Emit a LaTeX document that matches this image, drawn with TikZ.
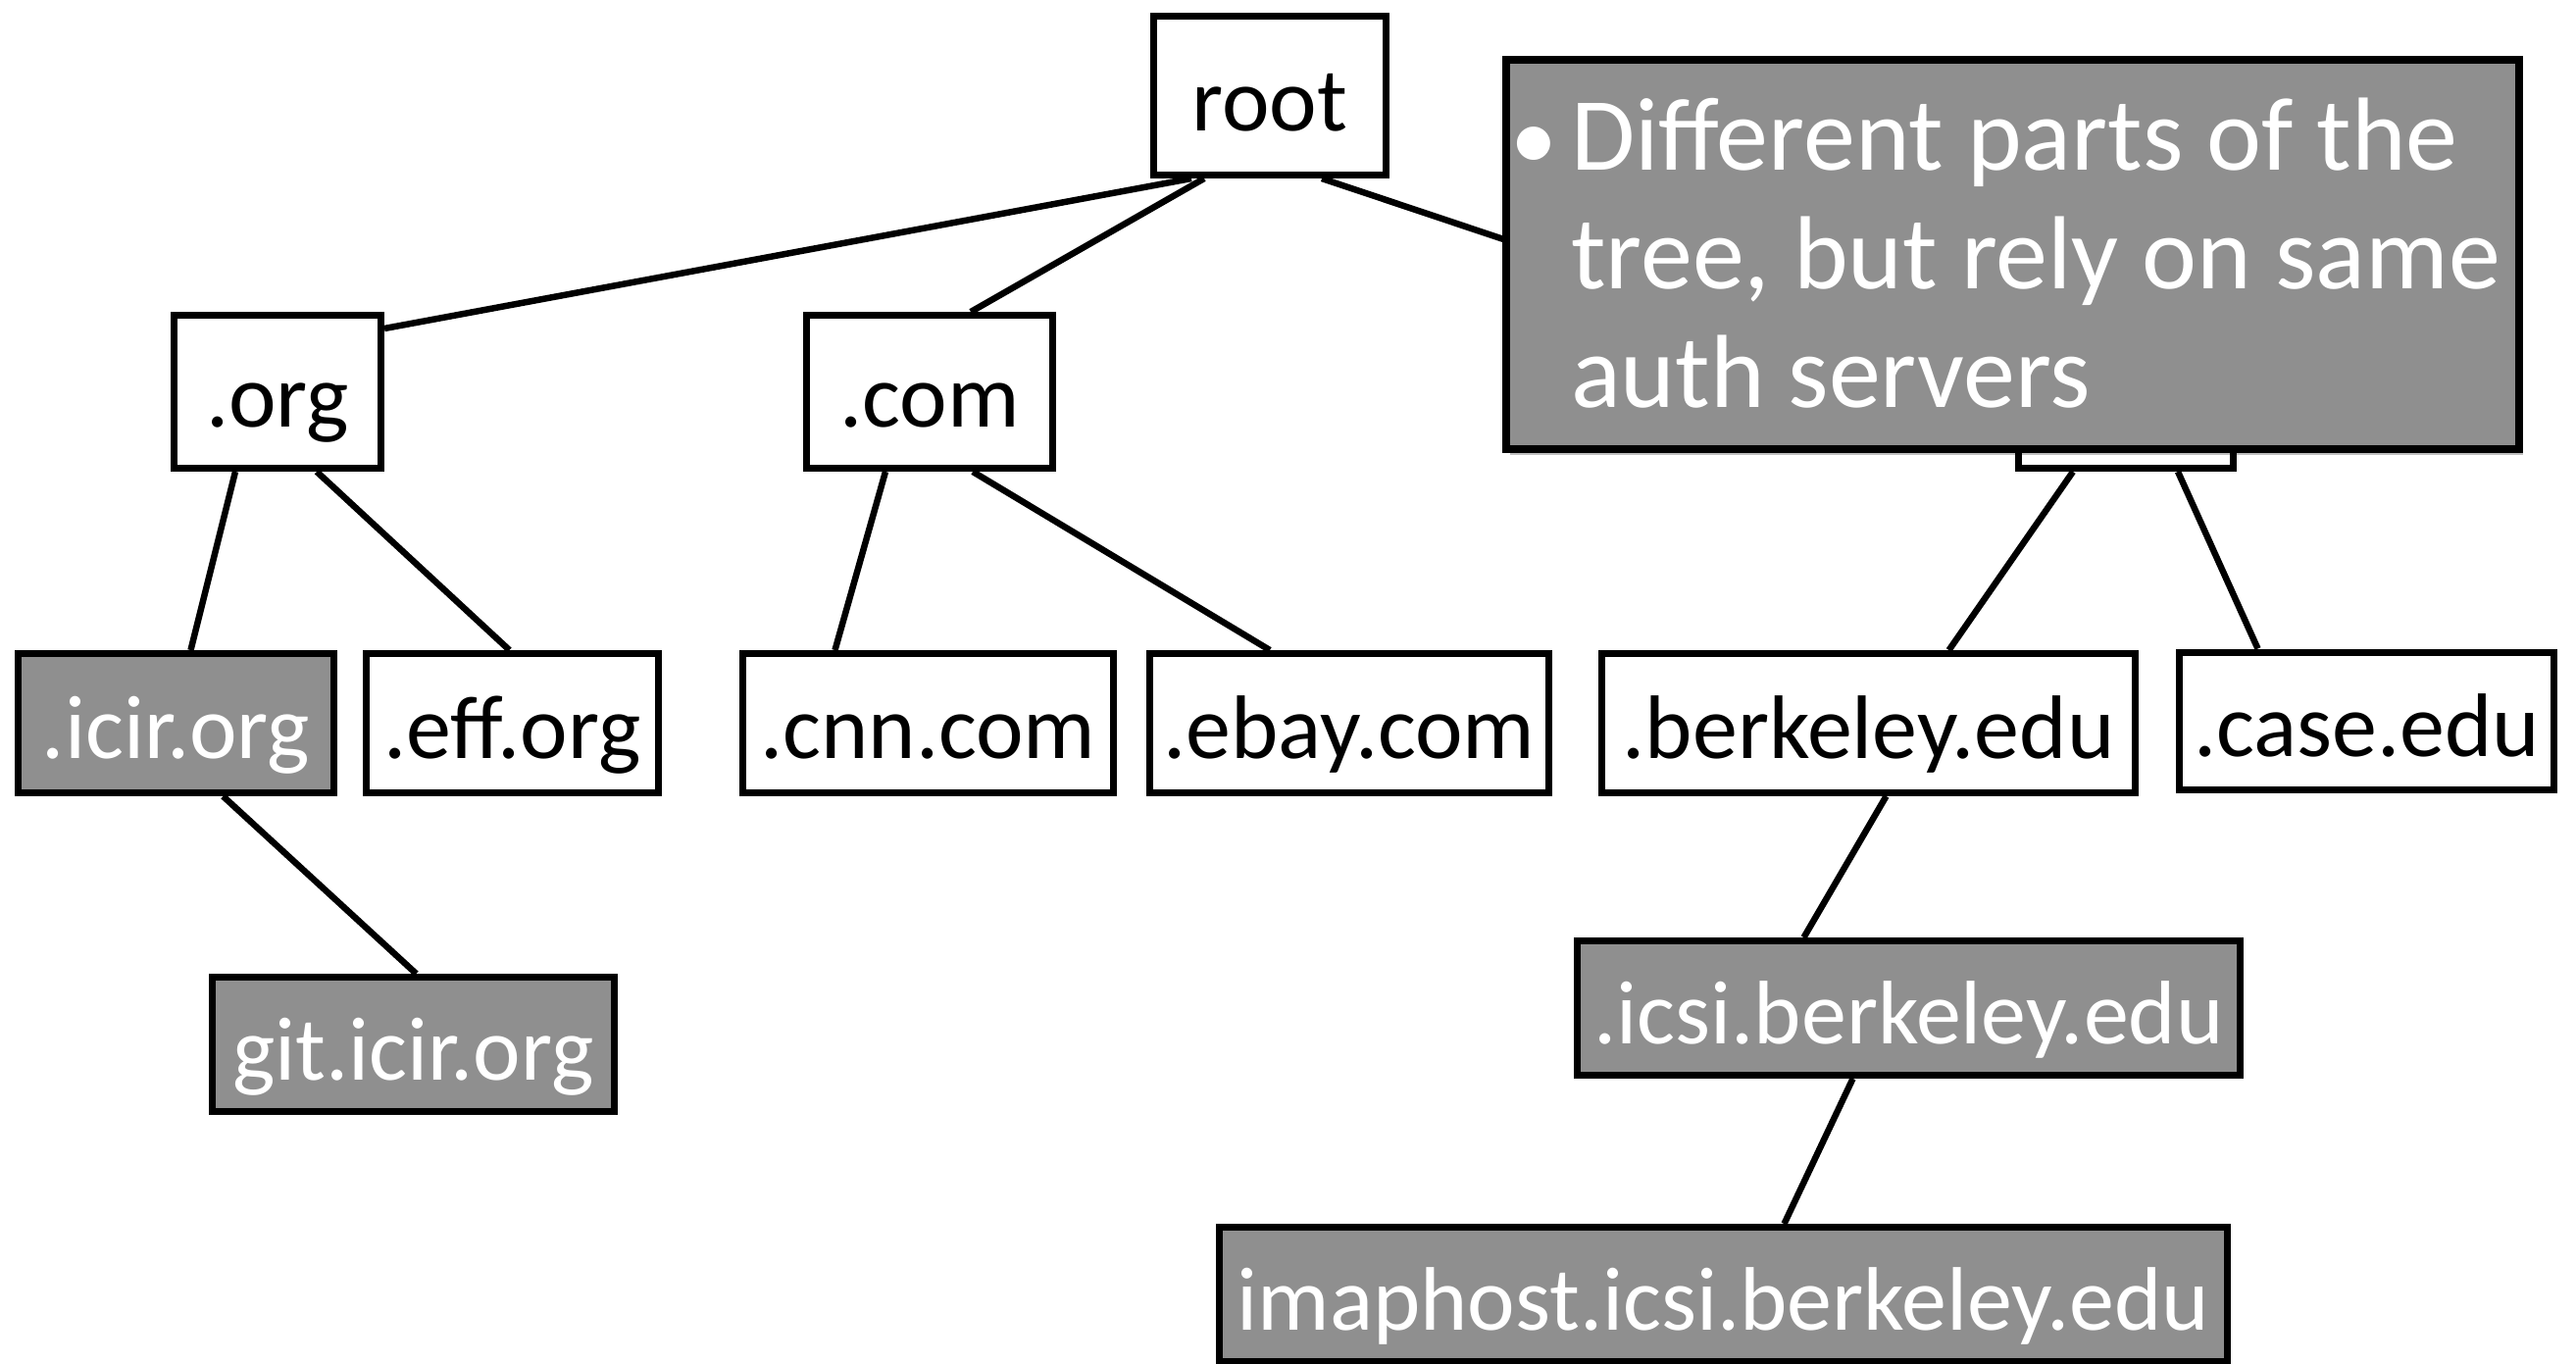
\documentclass[tikz,border=0pt]{standalone}
\usepackage{fontspec}
\setmainfont{Carlito}
\usetikzlibrary{calc,shadows}
\pgfdeclarelayer{background}
\pgfsetlayers{background,main}
\definecolor{boxgray}{RGB}{143,143,143}
\tikzset{
  box/.style={draw=black, line width=7pt, fill=white, inner sep=0pt,
    text height=76pt, text depth=4pt, font=\fontsize{92}{110}\selectfont},
  graybox/.style={box, fill=boxgray, text=white},
  conn/.style={draw=black, line width=6.5pt},
  callbox/.style={draw=black, line width=8pt, fill=boxgray, inner sep=0pt,
    drop shadow={shadow xshift=4pt, shadow yshift=-6pt, fill=black, opacity=0.25}},
  calltext/.style={inner sep=0pt, text=white, font=\fontsize{106}{121}\selectfont}
}
\begin{document}
\begin{tikzpicture}[x=1pt, y=-1pt]
\useasboundingbox (0,0) rectangle (2627,1390);
% level 0
\node[box, minimum width=237pt, minimum height=162pt] (root) at (1295,97.5) {root};
% level 1
\node[box, minimum width=211pt, minimum height=156pt] (org) at (283,399.5) {.org};
\node[box, minimum width=251pt, minimum height=156pt] (com) at (948,399.5) {.com};
\node[box, minimum width=219pt, minimum height=156pt] (edu) at (2168,399.5) {};
% level 2
\node[graybox, minimum width=322pt, minimum height=142pt] (icir) at (179.5,737.5) {.icir.org};
\node[box, minimum width=298pt, minimum height=142pt] (eff) at (522.5,737.5) {.eff.org};
\node[box, minimum width=378pt, minimum height=142pt] (cnn) at (946.5,737.5) {.cnn.com};
\node[box, minimum width=407pt, minimum height=142pt] (ebay) at (1376,737.5) {.ebay.com};
\node[box, minimum width=544pt, minimum height=142pt] (berkeley) at (1905.5,737.5) {.berkeley.edu};
\node[box, minimum width=382pt, minimum height=140pt] (case) at (2413.5,735) {.case.edu};
% level 3
\node[graybox, minimum width=410pt, minimum height=137pt] (git) at (421.5,1065) {git.icir.org};
\node[graybox, minimum width=676pt, minimum height=137pt] (icsi) at (1946.5,1028) {.icsi.berkeley.edu};
% level 4
\node[graybox, minimum width=1028pt, minimum height=137pt] (imap) at (1757.5,1320) {imaphost.icsi.berkeley.edu};
% connectors
\begin{pgfonlayer}{background}
\draw[conn] ($(root.south)+(-80,0)$) -- ($(org.north east)+(0,17)$);
\draw[conn] ($(root.south)+(-67,0)$) -- ($(com.north)+(42,0)$);
\draw[conn] ($(root.south)+(53,0)$) -- ($(edu.west)+(0,19)$);
\draw[conn] ($(org.south)+(-43,0)$) -- ($(icir.north)+(15,0)$);
\draw[conn] ($(org.south)+(40,0)$) -- ($(eff.north)+(-3,0)$);
\draw[conn] ($(com.south)+(-45,0)$) -- ($(cnn.north)+(-95,0)$);
\draw[conn] ($(com.south)+(44,0)$) -- ($(ebay.north)+(-81,0)$);
\draw[conn] ($(edu.south)+(-54,0)$) -- ($(berkeley.north)+(82,0)$);
\draw[conn] ($(edu.south)+(53,0)$) -- ($(case.north)+(-111,0)$);
\draw[conn] ($(icir.south)+(48,0)$) -- ($(git.north)+(3,0)$);
\draw[conn] ($(berkeley.south)+(18,0)$) -- ($(icsi.north)+(-107,0)$);
\draw[conn] ($(icsi.south)+(-57,0)$) -- ($(imap.north)+(62,0)$);
\end{pgfonlayer}
% callout
\node[callbox, minimum width=1033pt, minimum height=397pt] (callout) at (2052.5,259.5) {};
\node[calltext, anchor=base west] (note) at ($(callout.north west)+(70,116)$)
  {\parbox[t]{960pt}{\raggedright\leavevmode\llap{{\fontsize{96}{96}\selectfont •}\hspace{14pt}}Different parts of the\\tree, but rely on same\\auth servers}};
\end{tikzpicture}
\end{document}
